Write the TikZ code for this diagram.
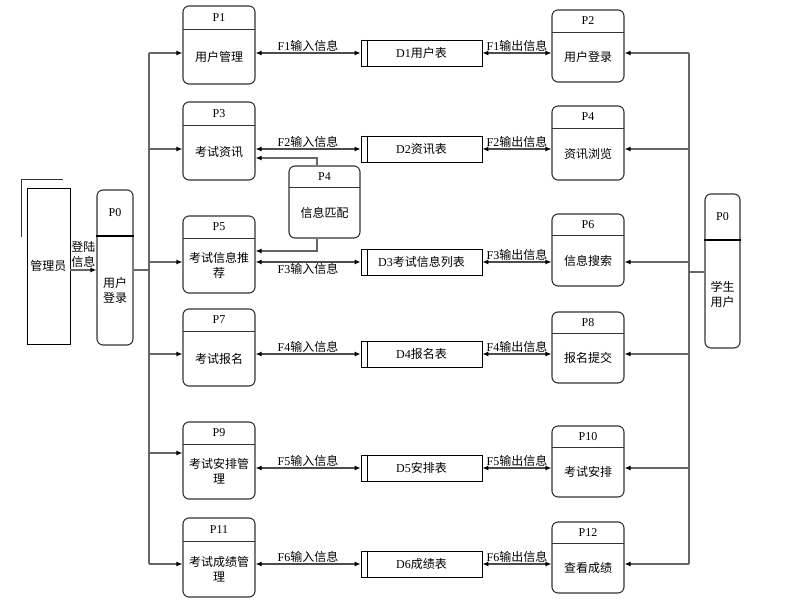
\documentclass[tikz,border=0pt]{standalone}
\usepackage{fontspec}
\setmainfont{Liberation Serif}
\newfontfamily\cjk{Noto Sans CJK SC}
\usetikzlibrary{arrows.meta}

\tikzset{
  proc/.style={draw=black!80, line width=1.1pt, rounded corners=6pt, inner sep=0pt},
  store/.style={draw=black, line width=0.8pt, minimum width=121pt, minimum height=26pt, inner sep=0pt,
    font=\fontsize{12}{15}\selectfont},
  lbl/.style={inner sep=1pt, font=\fontsize{12}{15}\selectfont},
  body/.style={inner sep=0pt, align=center, font=\fontsize{12}{15}\selectfont\cjk},
  tip/.tip={Latex[length=6pt,width=5pt,color=black]},
  link/.style={draw=black!60, line width=1.2pt},
  arr/.style={link, -tip},
  flow/.style={draw=black!70, line width=1.2pt, tip-tip},
}

% name, x1, y1, x2, y2, header line, top text, body text
\newcommand{\proc}[8]{%
  \node[proc, minimum width={#4-#2}, minimum height={#5-#3}] (#1) at ({(#2+#4)/2},{(#3+#5)/2}) {};
  \draw[black!80, line width=0.8pt] ({#2},{#6}) -- ({#4},{#6});
  \node[lbl] at ({(#2+#4)/2},{(#3+#6)/2}) {#7};
  \node[body] at ({(#2+#4)/2},{(#6+#5)/2}) {#8};
}
% name, center y, text
\newcommand{\store}[3]{%
  \node[store] (#1) at (421.5,#2) {#3};
  \draw[black, line width=0.8pt] ([xshift=7pt]#1.north west) -- ([xshift=7pt]#1.south west);
}

\begin{document}
\begin{tikzpicture}[x=1pt,y=-1pt]
\useasboundingbox (0,0) rectangle (788,601);

% administrator
\node[draw, line width=0.8pt, minimum width=43pt, minimum height=156pt, inner sep=0pt,
  font=\fontsize{12}{15}\selectfont\cjk] (admin) at (48.5,266) {管理员};
\draw[black!80, line width=0.8pt] (21,237) -- (21,179) -- (63,179);

\proc{a0}{97}{190}{133}{345}{236}{P0}{用户\\登录}
\draw[line width=1.8pt] (a0.west |- 0,236) -- (a0.east |- 0,236);

% left processes
\proc{p1}{183}{6}{255}{84}{29}{P1}{用户管理}
\proc{p3}{183}{102}{255}{180}{125}{P3}{考试资讯}
\proc{p5}{183}{216}{255}{293}{238}{P5}{考试信息推\\荐}
\proc{p7}{183}{309}{255}{386}{331}{P7}{考试报名}
\proc{p9}{183}{422}{255}{499}{444}{P9}{考试安排管\\理}
\proc{p11}{183}{518}{255}{597}{541}{P11}{考试成绩管\\理}

\proc{pm}{289}{166}{360}{238}{187}{P4}{信息匹配}

% data stores
\store{d1}{53}{D1{\cjk 用户表}}
\store{d2}{149}{D2{\cjk 资讯表}}
\store{d3}{262}{D3{\cjk 考试信息列表}}
\store{d4}{354}{D4{\cjk 报名表}}
\store{d5}{468}{D5{\cjk 安排表}}
\store{d6}{564}{D6{\cjk 成绩表}}

% right processes
\proc{p2}{552}{10}{624}{82}{32}{P2}{用户登录}
\proc{p4}{552}{106}{624}{180}{128}{P4}{资讯浏览}
\proc{p6}{552}{214}{624}{286}{235}{P6}{信息搜索}
\proc{p8}{552}{312}{624}{383}{333}{P8}{报名提交}
\proc{p10}{552}{426}{624}{497}{447}{P10}{考试安排}
\proc{p12}{552}{522}{624}{593}{543}{P12}{查看成绩}

% student
\proc{b0}{705}{194}{740}{348}{240}{P0}{学生\\用户}
\draw[line width=1.8pt] (b0.west |- 0,240) -- (b0.east |- 0,240);

\coordinate (lt) at (149,0);
\coordinate (rt) at (689,0);

% left trunk
\draw[arr] (admin.east |- 0,270) -- (a0.west |- 0,270)
  node[midway, above, body, inner sep=2pt] {登陆\\信息};
\draw[link] (a0.east |- 0,270) -- (lt |- 0,270);
\draw[link] (lt |- d1) -- (lt |- d6);
\foreach \p/\d in {p1/d1,p3/d2,p5/d3,p7/d4,p11/d6}
  \draw[arr] (lt |- \d) -- (\d -| \p.west);
\draw[arr] (lt |- 0,453) -- (p9.west |- 0,453);

% right trunk
\draw[link] (b0.west |- 0,272) -- (rt |- 0,272);
\draw[link] (rt |- d1) -- (rt |- d6);
\foreach \p/\d in {p2/d1,p4/d2,p6/d3,p8/d4,p10/d5,p12/d6}
  \draw[arr] (rt |- \d) -- (\d -| \p.east);

% flows
\draw[flow] (d1 -| p1.east) -- (d1.west) node[midway, above, lbl] {F1{\cjk 输入信息}};
\draw[flow] (d2 -| p3.east) -- (d2.west) node[midway, above, lbl] {F2{\cjk 输入信息}};
\draw[flow] (d3 -| p5.east) -- (d3.west) node[midway, below, lbl] {F3{\cjk 输入信息}};
\draw[flow] (d4 -| p7.east) -- (d4.west) node[midway, above, lbl] {F4{\cjk 输入信息}};
\draw[flow] (d5 -| p9.east) -- (d5.west) node[midway, above, lbl] {F5{\cjk 输入信息}};
\draw[flow] (d6 -| p11.east) -- (d6.west) node[midway, above, lbl] {F6{\cjk 输入信息}};

\draw[flow] (d1.east) -- (d1 -| p2.west) node[midway, above, lbl] {F1{\cjk 输出信息}};
\draw[flow] (d2.east) -- (d2 -| p4.west) node[midway, above, lbl] {F2{\cjk 输出信息}};
\draw[flow] (d3.east) -- (d3 -| p6.west) node[midway, above, lbl] {F3{\cjk 输出信息}};
\draw[flow] (d4.east) -- (d4 -| p8.west) node[midway, above, lbl] {F4{\cjk 输出信息}};
\draw[flow] (d5.east) -- (d5 -| p10.west) node[midway, above, lbl] {F5{\cjk 输出信息}};
\draw[flow] (d6.east) -- (d6 -| p12.west) node[midway, above, lbl] {F6{\cjk 输出信息}};

% matching
\draw[arr] ([xshift=-7.5pt]pm.north) |- (p3.east |- 0,158);
\draw[arr] ([xshift=-7.5pt]pm.south) |- (p5.east |- 0,251);
\end{tikzpicture}
\end{document}
